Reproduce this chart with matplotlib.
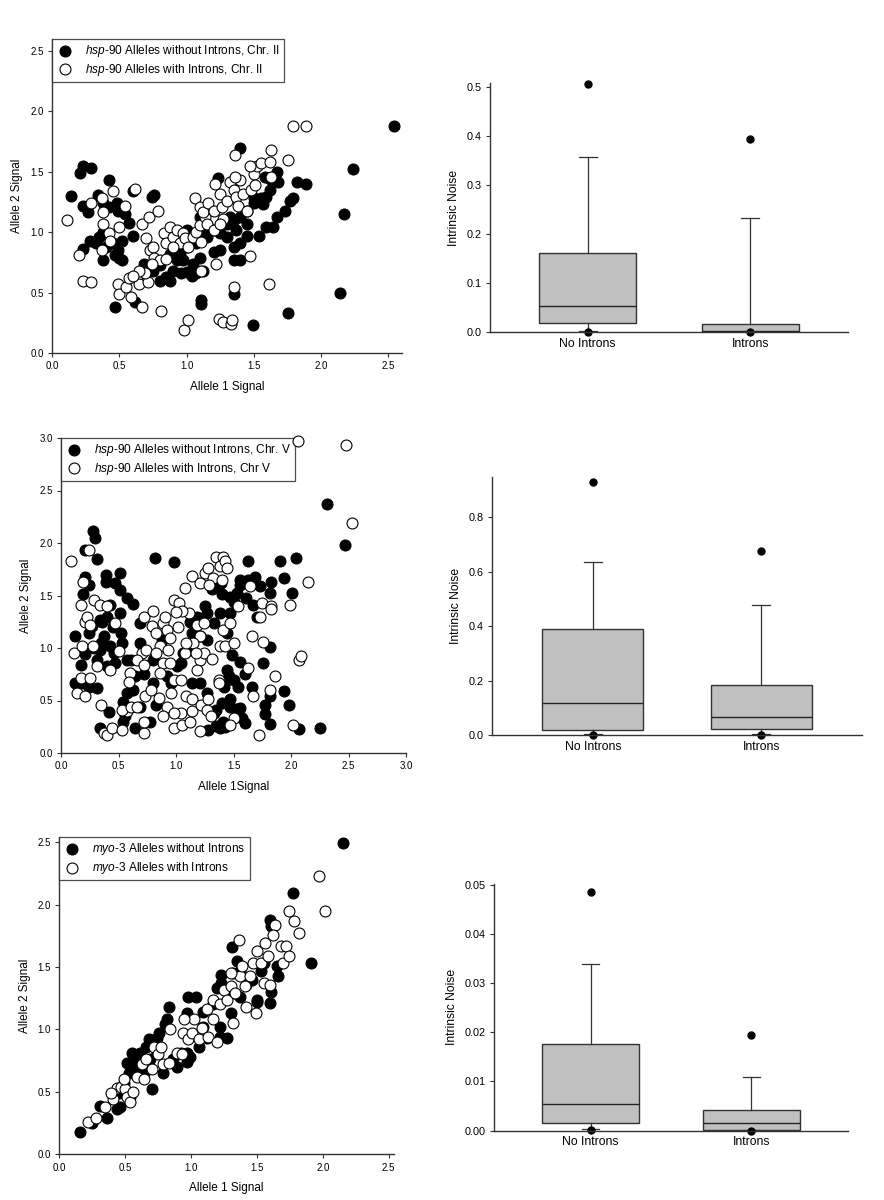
import numpy as np
import matplotlib
matplotlib.use('Agg')
import matplotlib.pyplot as plt
from matplotlib.ticker import FormatStrFormatter

plt.rcParams['font.family'] = 'Liberation Sans'
plt.rcParams['mathtext.fontset'] = 'custom'
plt.rcParams['mathtext.it'] = 'Liberation Sans:italic'
plt.rcParams['mathtext.rm'] = 'Liberation Sans'

# ---------------- scatter data (allele 1 signal, allele 2 signal) ----------------
# hsp-90, chromosome II
chr2_no_introns = [
    (0.14, 1.30), (0.21, 1.49), (0.23, 1.55), (0.29, 1.53), (0.42, 1.43), (0.23, 1.22), (0.27, 1.17),
    (0.34, 1.31), (0.38, 1.24), (0.42, 1.21), (0.48, 1.24), (0.49, 1.18), (0.54, 1.15), (0.57, 1.08),
    (0.28, 0.93), (0.33, 0.91), (0.35, 0.96), (0.38, 1.00), (0.40, 0.88), (0.45, 0.91), (0.49, 0.85),
    (0.52, 0.93), (0.47, 0.81), (0.50, 0.79), (0.52, 0.77), (0.38, 0.77), (0.23, 0.86), (0.60, 1.34),
    (0.76, 1.31), (0.74, 1.29), (0.60, 0.97), (0.47, 0.38), (0.62, 0.42), (0.68, 0.74), (0.80, 0.60),
    (0.85, 0.63), (0.90, 0.68), (0.96, 0.66), (1.00, 0.67), (1.04, 0.64), (1.07, 0.66), (1.12, 0.68),
    (1.05, 0.74), (1.10, 0.79), (0.93, 0.77), (0.88, 0.82), (1.11, 0.44), (1.11, 0.41), (1.35, 0.49),
    (1.49, 0.23), (1.75, 0.33), (2.14, 0.50), (2.17, 1.15), (2.24, 1.52), (2.54, 1.88), (1.40, 1.70),
    (1.23, 1.45), (1.15, 0.96), (1.20, 1.02), (1.25, 0.99), (1.30, 1.07), (1.35, 1.10), (1.40, 1.13),
    (1.45, 1.18), (1.50, 1.24), (1.55, 1.28), (1.59, 1.29), (1.62, 1.35), (1.68, 1.42), (1.67, 1.50),
    (1.82, 1.42), (1.89, 1.40), (1.79, 1.28), (1.73, 1.18), (1.67, 1.13), (1.64, 1.04), (1.59, 1.04),
    (1.54, 0.97), (1.45, 0.97), (1.40, 0.91), (1.35, 0.88), (1.30, 0.96), (1.25, 0.85), (1.20, 0.84),
    (1.35, 0.77), (1.40, 0.77), (1.32, 1.13), (1.37, 1.02), (1.62, 1.44), (1.58, 1.46), (1.50, 1.28),
    (1.45, 1.07), (1.12, 0.99), (1.07, 0.91), (1.00, 0.88), (0.95, 0.82), (0.97, 0.77), (0.80, 0.73),
    (0.75, 0.68), (0.88, 0.60), (1.10, 1.13), (1.00, 1.02), (1.77, 1.26), (1.57, 1.23),
]
chr2_introns = [
    (0.11, 1.10), (0.20, 0.81), (0.23, 0.60), (0.29, 0.59), (0.29, 1.24), (0.37, 1.28), (0.38, 1.17),
    (0.45, 1.34), (0.62, 1.36), (0.54, 1.22), (0.38, 1.07), (0.42, 0.99), (0.43, 0.93), (0.37, 0.85),
    (0.50, 1.04), (0.67, 1.07), (0.72, 1.13), (0.79, 1.18), (0.49, 0.57), (0.50, 0.49), (0.55, 0.55),
    (0.57, 0.62), (0.59, 0.46), (0.63, 0.64), (0.65, 0.57), (0.67, 0.38), (0.71, 0.59), (0.69, 0.66),
    (0.81, 0.35), (0.98, 0.19), (1.01, 0.27), (1.24, 0.28), (1.27, 0.26), (1.33, 0.24), (1.34, 0.27),
    (1.35, 0.55), (1.22, 0.74), (1.47, 0.80), (1.61, 0.57), (1.11, 0.68), (0.70, 0.95), (0.73, 0.85),
    (0.75, 0.88), (0.76, 0.79), (0.80, 0.77), (0.83, 0.99), (0.85, 0.91), (0.88, 1.04), (0.90, 0.96),
    (0.93, 1.02), (0.95, 0.91), (0.97, 0.99), (0.99, 0.95), (1.01, 0.88), (1.05, 0.96), (1.07, 1.00),
    (1.10, 1.06), (1.11, 0.92), (1.14, 1.13), (1.15, 1.07), (1.06, 1.28), (1.10, 1.21), (1.12, 1.17),
    (1.16, 1.24), (1.20, 1.18), (1.21, 1.40), (1.25, 1.32), (1.26, 1.21), (1.27, 1.11), (1.30, 1.26),
    (1.32, 1.42), (1.35, 1.35), (1.37, 1.29), (1.38, 1.22), (1.40, 1.43), (1.42, 1.32), (1.45, 1.18),
    (1.36, 1.46), (1.48, 1.35), (1.50, 1.48), (1.52, 1.55), (1.51, 1.39), (1.55, 1.57), (1.63, 1.68),
    (1.62, 1.58), (1.47, 1.55), (1.36, 1.64), (1.75, 1.60), (1.79, 1.88), (1.89, 1.88), (1.63, 1.46),
    (1.20, 1.02), (1.25, 1.07), (0.90, 0.88), (0.85, 0.78), (0.74, 0.74), (0.65, 0.68), (0.60, 0.64),
]

# hsp-90, chromosome V
chr5_no_introns = [
    (0.28, 2.11), (0.30, 2.05), (0.21, 1.93), (0.31, 1.85), (0.82, 1.86), (0.98, 1.82), (2.31, 2.37),
    (2.47, 1.98), (1.63, 1.83), (1.90, 1.83), (2.04, 1.86), (1.94, 1.67), (2.01, 1.52), (1.94, 0.59),
    (1.98, 0.46), (2.07, 0.23), (2.25, 0.24), (1.82, 0.28), (1.77, 0.46), (1.77, 0.37), (1.82, 0.54),
    (1.82, 1.01), (1.76, 0.86), (1.66, 0.63), (1.60, 0.75), (1.56, 0.87), (1.49, 0.93), (1.44, 0.79),
    (1.46, 0.73), (1.42, 0.63), (1.50, 0.70), (1.54, 0.63), (1.47, 0.51), (1.40, 0.48), (1.35, 0.41),
    (1.33, 0.38), (1.41, 0.30), (1.35, 0.26), (1.28, 0.22), (1.47, 0.44), (1.56, 0.43), (1.57, 0.33),
    (1.60, 0.29), (1.27, 0.57), (1.21, 0.67), (1.14, 0.67), (1.12, 0.98), (1.06, 0.95), (1.04, 0.86),
    (1.01, 0.83), (0.96, 0.67), (0.92, 0.73), (0.80, 0.89), (0.88, 1.08), (0.69, 1.05), (0.69, 1.24),
    (0.83, 0.46), (0.80, 0.67), (0.72, 0.75), (0.64, 0.73), (0.63, 0.60), (0.57, 0.57), (0.54, 0.49),
    (0.56, 0.35), (0.54, 0.30), (0.64, 0.24), (0.77, 0.30), (0.69, 0.44), (0.42, 0.39), (0.34, 0.24),
    (0.31, 0.62), (0.24, 0.63), (0.18, 0.67), (0.12, 0.67), (0.17, 0.84), (0.21, 0.94), (0.12, 1.11),
    (0.24, 1.14), (0.27, 1.21), (0.34, 1.27), (0.40, 1.30), (0.43, 1.41), (0.37, 1.11), (0.34, 0.98),
    (0.43, 1.02), (0.46, 0.95), (0.52, 1.14), (0.53, 1.05), (0.47, 0.86), (0.40, 0.83), (0.31, 0.89),
    (0.57, 0.89), (0.61, 0.89), (0.51, 1.33), (0.51, 1.55), (0.47, 1.62), (0.51, 1.71), (0.39, 1.70),
    (0.39, 1.63), (0.57, 1.48), (0.63, 1.42), (0.21, 1.68), (0.24, 1.60), (0.19, 1.51), (1.12, 1.25),
    (1.18, 1.30), (1.25, 1.40), (1.27, 1.33), (1.31, 1.56), (1.36, 1.59), (1.39, 1.62), (1.40, 1.51),
    (1.47, 1.49), (1.53, 1.52), (1.50, 1.44), (1.56, 1.65), (1.56, 1.60), (1.63, 1.65), (1.69, 1.68),
    (1.70, 1.30), (1.67, 1.41), (1.61, 1.48), (1.83, 1.63), (1.82, 1.52), (1.73, 1.59), (1.38, 1.33),
    (1.47, 1.33), (1.33, 1.24), (1.44, 1.14), (1.27, 1.08), (1.14, 1.14), (1.21, 1.11), (0.35, 1.05),
    (0.29, 1.00), (0.45, 1.20), (0.36, 1.25), (1.44, 0.70), (1.52, 0.42), (1.38, 0.24), (1.43, 0.25),
]
chr5_introns = [
    (0.09, 1.83), (0.24, 1.93), (0.19, 1.63), (0.17, 1.41), (0.29, 1.46), (0.11, 0.95), (0.18, 1.02),
    (0.21, 1.25), (0.23, 1.30), (0.25, 1.22), (0.34, 1.41), (0.40, 1.40), (0.47, 1.24), (0.17, 0.71),
    (0.25, 0.71), (0.14, 0.57), (0.21, 0.54), (0.31, 0.83), (0.35, 0.46), (0.37, 0.19), (0.40, 0.17),
    (0.44, 0.24), (0.53, 0.22), (0.57, 0.40), (0.53, 0.41), (0.60, 0.76), (0.61, 0.44), (0.66, 0.44),
    (0.72, 0.19), (0.72, 0.30), (0.73, 0.54), (0.72, 1.30), (0.70, 0.95), (0.66, 0.89), (0.72, 0.84),
    (0.74, 0.98), (0.79, 1.21), (0.80, 1.35), (0.83, 1.14), (0.86, 1.02), (0.83, 0.95), (0.89, 1.24),
    (0.92, 1.17), (0.93, 0.98), (0.89, 0.86), (0.86, 0.76), (0.95, 0.86), (0.96, 0.57), (0.92, 0.44),
    (0.89, 0.35), (0.98, 0.24), (1.05, 0.27), (1.04, 0.38), (0.98, 0.38), (1.08, 0.95), (0.98, 0.70),
    (1.04, 0.70), (1.09, 0.54), (1.14, 0.51), (1.14, 0.40), (1.12, 0.30), (1.21, 0.21), (1.22, 0.46),
    (1.27, 0.41), (1.30, 0.35), (1.28, 0.51), (0.98, 1.46), (1.03, 1.43), (1.08, 1.57), (1.14, 1.69),
    (1.21, 1.62), (1.25, 1.71), (1.28, 1.76), (1.32, 1.67), (1.35, 1.87), (1.41, 1.87), (1.38, 1.78),
    (1.43, 1.83), (1.44, 1.76), (1.40, 1.65), (1.11, 1.33), (1.05, 1.35), (1.18, 1.22), (1.21, 1.11),
    (1.24, 1.24), (1.15, 1.05), (1.09, 1.05), (1.21, 0.89), (1.18, 0.79), (1.24, 0.95), (1.31, 0.90),
    (1.37, 0.70), (1.37, 0.67), (1.38, 1.02), (1.43, 1.02), (1.41, 1.17), (1.47, 1.24), (1.50, 1.05),
    (1.54, 1.40), (1.64, 1.59), (1.66, 1.11), (1.63, 0.81), (1.67, 0.54), (1.75, 1.43), (1.73, 1.30),
    (1.76, 1.06), (1.83, 1.40), (1.83, 1.37), (1.82, 0.60), (1.86, 0.73), (1.72, 0.17), (1.99, 1.41),
    (2.02, 0.27), (2.15, 1.63), (2.07, 0.89), (2.09, 0.92), (2.06, 2.97), (2.48, 2.93), (2.53, 2.19),
    (1.50, 0.33), (1.47, 0.27), (0.59, 0.68), (0.43, 0.79), (0.50, 0.97), (0.28, 1.02), (0.90, 1.30),
    (1.00, 1.34), (0.95, 1.10), (1.02, 1.20), (1.17, 0.95), (0.78, 0.60), (0.85, 0.52), (1.29, 1.60),
]

# myo-3
myo3_no_introns = [
    (0.16, 0.18), (0.25, 0.25), (0.31, 0.39), (0.36, 0.29), (0.44, 0.36), (0.46, 0.38), (0.45, 0.49),
    (0.49, 0.57), (0.53, 0.65), (0.56, 0.70), (0.59, 0.77), (0.61, 0.81), (0.66, 0.86), (0.70, 0.52),
    (0.74, 0.93), (0.76, 0.97), (0.80, 1.04), (0.83, 1.18), (0.82, 1.08), (0.74, 0.81), (0.79, 0.65),
    (0.89, 0.70), (0.92, 0.81), (0.98, 1.26), (1.04, 1.26), (0.97, 1.13), (0.97, 0.74), (0.99, 0.78),
    (1.06, 0.86), (1.09, 1.02), (1.09, 1.14), (1.17, 1.20), (1.20, 1.33), (1.23, 1.44), (1.23, 1.37),
    (1.22, 1.02), (1.27, 0.93), (1.22, 0.94), (1.30, 1.13), (1.31, 1.66), (1.35, 1.55), (1.32, 1.45),
    (1.37, 1.26), (1.42, 1.36), (1.46, 1.40), (1.50, 1.22), (1.50, 1.24), (1.53, 1.47), (1.55, 1.53),
    (1.60, 1.88), (1.61, 1.83), (1.60, 1.21), (1.61, 1.30), (1.65, 1.51), (1.66, 1.43), (1.77, 2.09),
    (1.91, 1.53), (2.15, 2.49), (1.12, 0.93), (0.97, 0.81), (1.37, 1.47), (1.32, 1.29), (0.86, 0.76),
    (0.69, 0.76), (0.64, 0.65), (0.59, 0.68), (0.54, 0.46), (0.68, 0.92), (0.55, 0.81), (0.51, 0.73),
]
myo3_introns = [
    (0.22, 0.26), (0.28, 0.29), (0.35, 0.38), (0.41, 0.44), (0.44, 0.53), (0.47, 0.54), (0.50, 0.52),
    (0.51, 0.46), (0.54, 0.42), (0.56, 0.50), (0.59, 0.62), (0.63, 0.72), (0.66, 0.76), (0.70, 0.68),
    (0.72, 0.86), (0.75, 0.80), (0.79, 0.72), (0.83, 0.73), (0.84, 1.00), (0.89, 0.81), (0.93, 0.80),
    (0.94, 0.97), (0.98, 0.92), (1.01, 0.97), (1.02, 1.08), (1.06, 0.92), (1.08, 1.01), (1.12, 1.16),
    (1.13, 0.94), (1.17, 1.24), (1.20, 0.90), (1.22, 1.20), (1.25, 1.32), (1.27, 1.24), (1.30, 1.35),
    (1.33, 1.29), (1.36, 1.72), (1.37, 1.43), (1.39, 1.51), (1.41, 1.35), (1.42, 1.18), (1.45, 1.43),
    (1.47, 1.53), (1.49, 1.13), (1.50, 1.63), (1.53, 1.53), (1.55, 1.37), (1.56, 1.69), (1.58, 1.59),
    (1.60, 1.36), (1.64, 1.84), (1.62, 1.76), (1.68, 1.67), (1.70, 1.53), (1.72, 1.67), (1.74, 1.59),
    (1.74, 1.95), (1.78, 1.87), (1.82, 1.77), (1.97, 2.23), (2.02, 1.95), (1.32, 1.05), (1.17, 1.08),
    (0.77, 0.86), (0.64, 0.60), (0.49, 0.60), (0.39, 0.49), (1.30, 1.45), (0.95, 1.08),
]

# ---------------- box plot data (intrinsic noise) ----------------
box_labels = ['No Introns', 'Introns']

chr2_q1 = [0.018, 0.0005]
chr2_med = [0.054, 0.003]
chr2_q3 = [0.161, 0.017]
chr2_lo = [0.003, 0.0003]
chr2_hi = [0.357, 0.233]
chr2_fliers = [[0.505, 0.001], [0.394, 0.0]]

chr5_q1 = [0.018, 0.022]
chr5_med = [0.118, 0.068]
chr5_q3 = [0.392, 0.186]
chr5_lo = [0.004, 0.006]
chr5_hi = [0.638, 0.480]
chr5_fliers = [[0.930, 0.001], [0.675, 0.001]]

myo3_q1 = [0.0015, 0.0002]
myo3_med = [0.0055, 0.0016]
myo3_q3 = [0.0176, 0.0043]
myo3_lo = [0.0003, 0.0001]
myo3_hi = [0.034, 0.011]
myo3_fliers = [[0.0485, 0.0001], [0.0195, 0.0]]

AX_COL = '#333333'
fig = plt.figure(figsize=(8.84, 12), dpi=100)


def style_axes(ax, labelsize):
    for s in ['top', 'right']:
        ax.spines[s].set_visible(False)
    for s in ['left', 'bottom']:
        ax.spines[s].set_color(AX_COL)
        ax.spines[s].set_linewidth(1.0)
    ax.tick_params(direction='out', length=3, width=0.8, color=AX_COL, labelsize=labelsize, pad=3)


def scatter_panel(rect, no_pts, in_pts, lim, ticks, xlabel, legend_labels):
    ax = fig.add_axes(rect)
    no_pts = np.array(no_pts)
    in_pts = np.array(in_pts)
    ax.scatter(no_pts[:, 0], no_pts[:, 1], s=62, facecolor='black', edgecolor='black',
               linewidth=0.8, label=legend_labels[0], clip_on=False, zorder=3)
    ax.scatter(in_pts[:, 0], in_pts[:, 1], s=62, facecolor='white', edgecolor='black',
               linewidth=0.8, label=legend_labels[1], clip_on=False, zorder=3)
    ax.set_xlim(0, lim[0])
    ax.set_ylim(0, lim[1])
    ax.set_xticks(ticks[0])
    ax.set_yticks(ticks[1])
    ax.xaxis.set_major_formatter(FormatStrFormatter('%.1f'))
    ax.yaxis.set_major_formatter(FormatStrFormatter('%.1f'))
    style_axes(ax, 7)
    ax.set_xlabel(xlabel, fontsize=8.5, labelpad=7)
    ax.set_ylabel('Allele 2 Signal', fontsize=8.5, labelpad=5)
    leg = ax.legend(loc='upper left', bbox_to_anchor=(0, 1), borderaxespad=0, fontsize=8.6,
                    frameon=True, fancybox=False, edgecolor='#222222', handletextpad=0.9,
                    labelspacing=0.2, borderpad=0.35, handlelength=1.5, markerscale=1.0)
    leg.get_frame().set_linewidth(0.9)
    leg.set_zorder(2.5)
    return ax


def box_panel(rect, q1, med, q3, lo, hi, fliers, ymax, yticks, fmt):
    ax = fig.add_axes(rect)
    stats = []
    for i in range(2):
        stats.append({'q1': q1[i], 'med': med[i], 'q3': q3[i], 'whislo': lo[i],
                      'whishi': hi[i], 'fliers': fliers[i], 'label': box_labels[i]})
    ax.bxp(stats, positions=[1, 2], widths=0.6, patch_artist=True, capwidths=0.11,
           boxprops=dict(facecolor='#c0c0c0', edgecolor=AX_COL, linewidth=1.0),
           medianprops=dict(color='#222222', linewidth=1.0),
           whiskerprops=dict(color=AX_COL, linewidth=0.9),
           capprops=dict(color=AX_COL, linewidth=0.9),
           flierprops=dict(marker='o', markerfacecolor='black', markeredgecolor='black',
                           markersize=5, clip_on=False))
    ax.set_xlim(0.4, 2.6)
    ax.set_ylim(0, ymax)
    ax.set_yticks(yticks)
    ax.yaxis.set_major_formatter(FormatStrFormatter(fmt))
    style_axes(ax, 7.8)
    ax.tick_params(axis='x', length=0, labelsize=8.8, pad=4)
    ax.set_ylabel('Intrinsic Noise', fontsize=8.7, labelpad=5)
    return ax


scatter_panel([0.0588, 0.7058, 0.3959, 0.2617], chr2_no_introns, chr2_introns, (2.6, 2.6),
              (np.arange(0, 2.6, 0.5), np.arange(0, 2.6, 0.5)), 'Allele 1 Signal',
              [r'$\it{hsp}$-$\it{90}$ Alleles without Introns, Chr. II',
               r'$\it{hsp}$-$\it{90}$ Alleles with Introns, Chr. II'])
box_panel([0.5543, 0.7231, 0.405, 0.208], chr2_q1, chr2_med, chr2_q3, chr2_lo, chr2_hi,
          chr2_fliers, 0.508, np.arange(0, 0.51, 0.1), '%.1f')

scatter_panel([0.0690, 0.3725, 0.3903, 0.2625], chr5_no_introns, chr5_introns, (3.0, 3.0),
              (np.arange(0, 3.1, 0.5), np.arange(0, 3.1, 0.5)), 'Allele 1Signal',
              [r'$\it{hsp}$-$\it{90}$ Alleles without Introns, Chr. V',
               r'$\it{hsp}$-$\it{90}$ Alleles with Introns, Chr V'])
box_panel([0.5566, 0.3873, 0.4186, 0.2155], chr5_q1, chr5_med, chr5_q3, chr5_lo, chr5_hi,
          chr5_fliers, 0.95, np.arange(0, 0.81, 0.2), '%.1f')

scatter_panel([0.0671, 0.0381, 0.3786, 0.2642], myo3_no_introns, myo3_introns, (2.54, 2.54),
              (np.arange(0, 2.6, 0.5), np.arange(0, 2.6, 0.5)), 'Allele 1 Signal',
              [r'$\it{myo}$-$\it{3}$ Alleles without Introns',
               r'$\it{myo}$-$\it{3}$ Alleles with Introns'])
box_panel([0.5588, 0.0578, 0.4005, 0.2056], myo3_q1, myo3_med, myo3_q3, myo3_lo, myo3_hi,
          myo3_fliers, 0.0502, np.arange(0, 0.051, 0.01), '%.2f')

plt.savefig('out.png', dpi=100)
